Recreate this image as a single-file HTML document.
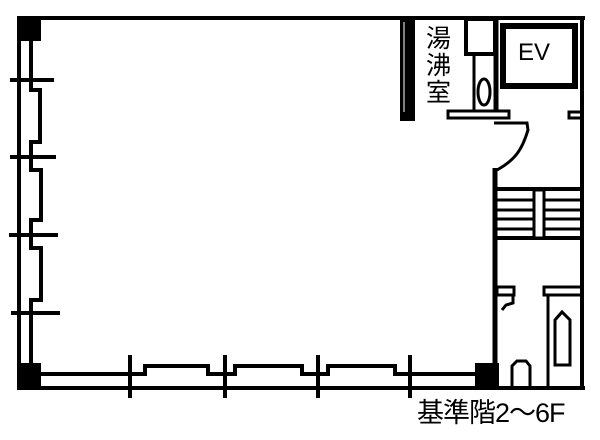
<!DOCTYPE html>
<html><head><meta charset="utf-8"><style>
html,body{margin:0;padding:0;background:#fff;width:600px;height:440px;overflow:hidden}
svg{position:absolute;left:0;top:0}
.cap{position:absolute;left:417px;top:396px;font:27px "Liberation Sans","Noto Sans CJK JP",sans-serif;color:#000;letter-spacing:-1px;line-height:34px}
.k{position:absolute;left:426px;top:26px;width:28px;font:25px/27px "Liberation Sans","Noto Sans CJK JP",sans-serif;color:#000}
.ev{position:absolute;left:518px;top:39px;font:24px "Liberation Sans",sans-serif;color:#000}
</style></head><body>
<svg width="600" height="440" viewBox="0 0 600 440">
<g fill="none" stroke="#000" stroke-width="4">
<line x1="17" y1="18" x2="585" y2="18"/>
<line x1="19" y1="17" x2="19" y2="389"/>
<line x1="582" y1="17" x2="582" y2="389"/>
<line x1="17" y1="388" x2="585" y2="388"/>
<polyline points="31,40 31,90 40,90 40,142 31,142 31,170 41,170 41,220 31,220 31,248 41,248 41,300 31,300 31,365" stroke-width="4"/>
<polyline points="40,374 145,374 145,366 208,366 208,374 235,374 235,366 302,366 302,374 328,374 328,366 395,366 395,374 476,374" stroke-width="4"/>
<line x1="10" y1="80" x2="54" y2="80"/><line x1="10" y1="157" x2="56" y2="157"/>
<line x1="9" y1="235" x2="58" y2="235"/><line x1="11" y1="313" x2="60" y2="313"/>
<line x1="130" y1="355" x2="130" y2="398"/><line x1="225" y1="355" x2="225" y2="398"/>
<line x1="318" y1="355" x2="318" y2="398"/><line x1="410" y1="355" x2="410" y2="398"/>
<line x1="495" y1="168" x2="495" y2="388" stroke-width="5"/>
<line x1="496" y1="18" x2="496" y2="110" stroke-width="5"/>
<rect x="466" y="19" width="29" height="35" stroke-width="4"/>
<line x1="474" y1="54" x2="474" y2="110" stroke-width="3"/>
<ellipse cx="484" cy="92" rx="6" ry="13" stroke-width="3"/>
<rect x="448" y="111" width="61" height="7" stroke-width="3"/>
<rect x="569" y="112" width="13" height="6" stroke-width="3"/>
<rect x="503" y="26" width="72" height="60" stroke-width="6"/>
<path d="M494,123 L527,123 L528,130 C522,150 515,160 497,170" stroke-width="3"/>
<line x1="497" y1="189" x2="582" y2="189" stroke-width="4"/>
<line x1="497" y1="238" x2="582" y2="238" stroke-width="4"/>
<line x1="497" y1="200" x2="582" y2="200" stroke-width="3"/><line x1="497" y1="210" x2="582" y2="210" stroke-width="3"/>
<line x1="497" y1="219" x2="582" y2="219" stroke-width="3"/><line x1="497" y1="229" x2="582" y2="229" stroke-width="3"/>
<rect x="534" y="190" width="10" height="48" fill="#fff" stroke-width="3"/>
<rect x="497" y="287" width="17" height="8" stroke-width="3"/>
<path d="M513,296 L513,303 L506,305 L502,310" stroke-width="3"/>
<rect x="544" y="287" width="38" height="8" stroke-width="3"/>
<line x1="548" y1="296" x2="548" y2="388" stroke-width="3"/>
<path d="M555,365 L555,320 L562,312 L570,320 L570,365 Z" stroke-width="3"/>
<path d="M512,388 L512,366 L517,361 L526,361 L530,366 L530,388" stroke-width="3"/>
</g>
<g fill="#000">
<rect x="17" y="17" width="24" height="24"/>
<rect x="17" y="363" width="24" height="26"/>
<rect x="475" y="363" width="24" height="26"/>
<rect x="400" y="18" width="15" height="103"/>
</g>
<line x1="404" y1="22" x2="404" y2="112" stroke="#fff" stroke-width="1"/>
</svg>
<div class="k">湯沸室</div>
<div class="ev">EV</div>
<div class="cap">基準階2〜6F</div>
</body></html>
